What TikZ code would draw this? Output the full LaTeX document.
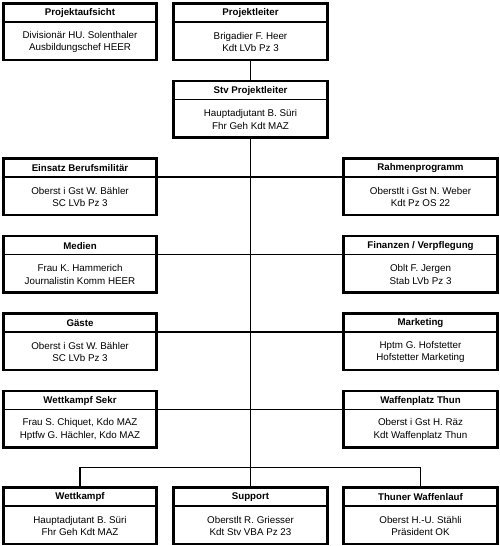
\documentclass[tikz,border=0pt]{standalone}
\usepackage{fontspec}
\setmainfont{Liberation Sans}
\usetikzlibrary{calc}
\tikzset{
 orgbox/.style={draw, line width=2.8pt, minimum width=153.5pt, minimum height=56.5pt, inner sep=0pt, outer sep=0pt},
 divider/.style={line width=1.8pt},
 headtext/.style={font=\fontsize{9.7}{11}\selectfont\bfseries, inner sep=0pt},
 bodytext/.style={font=\fontsize{9.8}{12.7}\selectfont, align=center, inner sep=0pt},
 conn/.style={line width=1.2pt},
 spine/.style={line width=1pt},
}
\newcommand\orgunit[6]{%
 \node[orgbox] (#1) at (#2,#3+28.25) {};
 \coordinate (#1-dl) at ($(#1.north west)+(0,18.5)$);
 \coordinate (#1-dr) at ($(#1.north east)+(0,18.5)$);
 \draw[divider] (#1-dl) -- (#1-dr);
 \node[headtext] (#1-h) at ($(#1.north)+(0,9.8)$) {#4};
 \node[bodytext] (#1-b) at ($(#1.north)+(0,38.5)$) {#5\\#6};
}
\begin{document}
\begin{tikzpicture}[x=1pt,y=-1pt]
\useasboundingbox (0,0) rectangle (500,546);
\orgunit{pa}{80}{3.5}{Projektaufsicht}{Divisionär HU. Solenthaler}{Ausbildungschef HEER}
\orgunit{pl}{250.5}{3.5}{Projektleiter}{Brigadier F. Heer}{Kdt LVb Pz 3}
\orgunit{stv}{250.5}{81}{Stv Projektleiter}{Hauptadjutant B. Süri}{Fhr Geh Kdt MAZ}
\orgunit{ein}{80}{158.5}{Einsatz Berufsmilitär}{Oberst i Gst W. Bähler}{SC LVb Pz 3}
\orgunit{rah}{420.5}{158.5}{Rahmenprogramm}{Oberstlt i Gst N. Weber}{Kdt Pz OS 22}
\orgunit{med}{80}{236}{Medien}{Frau K. Hammerich}{Journalistin Komm HEER}
\orgunit{fin}{420.5}{236}{Finanzen / Verpflegung}{Oblt F. Jergen}{Stab LVb Pz 3}
\orgunit{gae}{80}{313.5}{Gäste}{Oberst i Gst W. Bähler}{SC LVb Pz 3}
\orgunit{mar}{420.5}{313.5}{Marketing}{Hptm G. Hofstetter}{Hofstetter Marketing}
\orgunit{wks}{80}{391}{Wettkampf Sekr}{Frau S. Chiquet, Kdo MAZ}{Hptfw G. Hächler, Kdo MAZ}
\orgunit{wpt}{420.5}{391}{Waffenplatz Thun}{Oberst i Gst H. Räz}{Kdt Waffenplatz Thun}
\orgunit{wk}{80}{487.5}{Wettkampf}{Hauptadjutant B. Süri}{Fhr Geh Kdt MAZ}
\orgunit{sup}{250.5}{487.5}{Support}{Oberstlt R. Griesser}{Kdt Stv VBA Pz 23}
\orgunit{thu}{420.5}{487.5}{Thuner Waffenlauf}{Oberst H.-U. Stähli}{Präsident OK}
\coordinate (bus) at (250.5,467.3);
\draw[spine] (pl.south) -- (stv.north);
\draw[spine] (stv.south) -- (sup.north);
\draw[conn] (ein-dr) -- (rah-dl);
\draw[conn] (med-dr) -- (fin-dl);
\draw[conn] (gae-dr) -- (mar-dl);
\draw[conn] (wks-dr) -- (wpt-dl);
\draw[conn] (wk.north) |- (bus) -| (thu.north);
\end{tikzpicture}
\end{document}
